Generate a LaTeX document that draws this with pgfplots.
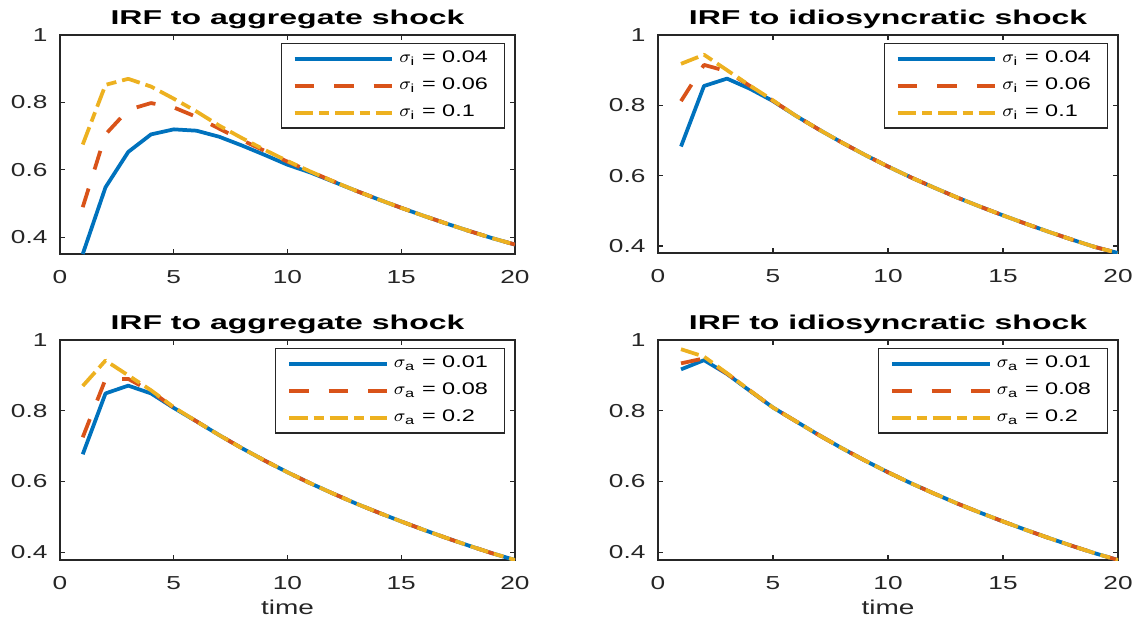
\documentclass[border=0pt]{standalone}
\usepackage{amsmath}
\usepackage{fontspec}
\setmainfont{Liberation Sans}[FakeStretch=1.4]
\newfontfamily\titlefont{Liberation Sans}[FakeStretch=1.6]
\usepackage{pgfplots}
\usepackage{pgfplotstable}
\pgfplotsset{compat=1.18}

\definecolor{mblue}{rgb}{0,0.447,0.741}
\definecolor{mred}{rgb}{0.85,0.325,0.098}
\definecolor{myellow}{rgb}{0.929,0.694,0.125}

% t, sigma low (blue), mid (red), high (yellow)
\pgfplotstableread{
t  b     r     y
1  0.350 0.489 0.675
2  0.548 0.705 0.852
3  0.653 0.778 0.870
4  0.705 0.798 0.847
5  0.720 0.785 0.811
6  0.716 0.757 0.773
7  0.698 0.722 0.731
8  0.672 0.688 0.694
9  0.644 0.656 0.659
10 0.615 0.624 0.626
11 0.592 0.595 0.595
12 0.565 0.566 0.566
13 0.538 0.538 0.538
14 0.512 0.512 0.512
15 0.487 0.487 0.487
16 0.463 0.463 0.463
17 0.440 0.440 0.440
18 0.418 0.418 0.418
19 0.397 0.397 0.397
20 0.378 0.378 0.378
}\aggi
\pgfplotstableread{
t  b     r     y
1  0.683 0.812 0.918
2  0.855 0.915 0.944
3  0.876 0.897 0.900
4  0.847 0.855 0.856
5  0.812 0.813 0.814
6  0.770 0.770 0.770
7  0.731 0.731 0.731
8  0.694 0.694 0.694
9  0.659 0.659 0.659
10 0.626 0.626 0.626
11 0.595 0.595 0.595
12 0.566 0.566 0.566
13 0.538 0.538 0.538
14 0.512 0.512 0.512
15 0.487 0.487 0.487
16 0.463 0.463 0.463
17 0.440 0.440 0.440
18 0.418 0.418 0.418
19 0.397 0.397 0.397
20 0.380 0.380 0.380
}\idioi
\pgfplotstableread{
t  b     r     y
1  0.677 0.725 0.870
2  0.849 0.889 0.942
3  0.871 0.890 0.900
4  0.849 0.855 0.858
5  0.808 0.809 0.810
6  0.770 0.770 0.770
7  0.731 0.731 0.731
8  0.694 0.694 0.694
9  0.659 0.659 0.659
10 0.626 0.626 0.626
11 0.595 0.595 0.595
12 0.566 0.566 0.566
13 0.538 0.538 0.538
14 0.512 0.512 0.512
15 0.487 0.487 0.487
16 0.463 0.463 0.463
17 0.440 0.440 0.440
18 0.418 0.418 0.418
19 0.397 0.397 0.397
20 0.378 0.378 0.378
}\agga
\pgfplotstableread{
t  b     r     y
1  0.917 0.934 0.974
2  0.943 0.948 0.953
3  0.904 0.905 0.906
4  0.856 0.857 0.857
5  0.809 0.809 0.809
6  0.770 0.770 0.770
7  0.731 0.731 0.731
8  0.694 0.694 0.694
9  0.659 0.659 0.659
10 0.626 0.626 0.626
11 0.595 0.595 0.595
12 0.566 0.566 0.566
13 0.538 0.538 0.538
14 0.512 0.512 0.512
15 0.487 0.487 0.487
16 0.463 0.463 0.463
17 0.440 0.440 0.440
18 0.418 0.418 0.418
19 0.397 0.397 0.397
20 0.378 0.378 0.378
}\idioa

\pgfplotsset{
  irf/.style={
    scale only axis,
    anchor=south west,
    xmin=0, xmax=20, ymax=1,
    xtick={0,5,10,15,20},
    ytick={0.4,0.6,0.8,1},
    tick align=inside, tick pos=both,
    major tick length=2pt,
    axis line style={black!85, line width=0.45pt},
    tick style={black!85, line width=0.45pt},
    /pgf/number format/assume math mode=true,
    tick label style={font=\fontsize{7.5}{9}\selectfont, text=black!85},
    x tick label style={yshift=-3.2pt},
    y tick label style={xshift=-1.5pt},
    every axis title shift=0pt,
    title style={font=\titlefont\bfseries\fontsize{8}{9.6}\selectfont,
      at={(0.5,1)}, anchor=base, yshift=4.4pt},
    xlabel style={font=\fontsize{8}{9.6}\selectfont, text=black!85, yshift=3pt},
    legend style={at={(1,1)}, anchor=north east, xshift=-4pt, yshift=-3.2pt,
      draw=black!85, line width=0.5pt,
      font=\fontsize{6.7}{8}\selectfont,
      inner xsep=4.6pt, inner ysep=1pt, row sep=0.6pt},
    legend cell align=left,
    legend image code/.code={\draw[##1] (0pt,0pt) -- (39pt,0pt);},
  },
  sb/.style={mblue, line width=1.5pt, line join=round},
  sr/.style={mred, line width=1.5pt, line join=round, dash pattern=on 7.8pt off 8pt},
  sy/.style={myellow, line width=1.5pt, line join=round,
    dash pattern=on 7.4pt off 2.4pt on 4pt off 2.4pt},
}

\begin{document}
\begin{tikzpicture}
\path[use as bounding box] (0,0) rectangle (454.4pt,247.2pt);

\begin{axis}[irf, at={(24pt,145.6pt)}, width=182pt, height=87.6pt,
  ymin=0.35, title={IRF to aggregate shock}]
  \addplot[sb] table[x=t,y=b]{\aggi};
  \addlegendentry{$\sigma_{\text{i}}$ = 0.04}
  \addplot[sr] table[x=t,y=r]{\aggi};
  \addlegendentry{$\sigma_{\text{i}}$ = 0.06}
  \addplot[sy] table[x=t,y=y]{\aggi};
  \addlegendentry{$\sigma_{\text{i}}$ = 0.1}
\end{axis}

\begin{axis}[irf, at={(263.2pt,146pt)}, width=184pt, height=87.2pt,
  ymin=0.38, title={IRF to idiosyncratic shock}]
  \addplot[sb] table[x=t,y=b]{\idioi};
  \addlegendentry{$\sigma_{\text{i}}$ = 0.04}
  \addplot[sr] table[x=t,y=r]{\idioi};
  \addlegendentry{$\sigma_{\text{i}}$ = 0.06}
  \addplot[sy] table[x=t,y=y]{\idioi};
  \addlegendentry{$\sigma_{\text{i}}$ = 0.1}
\end{axis}

\begin{axis}[irf, at={(24pt,23.2pt)}, width=182pt, height=88pt,
  ymin=0.378, title={IRF to aggregate shock}, xlabel={time}]
  \addplot[sb] table[x=t,y=b]{\agga};
  \addlegendentry{$\sigma_{\text{a}}$ = 0.01}
  \addplot[sr] table[x=t,y=r]{\agga};
  \addlegendentry{$\sigma_{\text{a}}$ = 0.08}
  \addplot[sy] table[x=t,y=y]{\agga};
  \addlegendentry{$\sigma_{\text{a}}$ = 0.2}
\end{axis}

\begin{axis}[irf, at={(263.2pt,23.2pt)}, width=184pt, height=88pt,
  ymin=0.378, title={IRF to idiosyncratic shock}, xlabel={time}]
  \addplot[sb] table[x=t,y=b]{\idioa};
  \addlegendentry{$\sigma_{\text{a}}$ = 0.01}
  \addplot[sr] table[x=t,y=r]{\idioa};
  \addlegendentry{$\sigma_{\text{a}}$ = 0.08}
  \addplot[sy] table[x=t,y=y]{\idioa};
  \addlegendentry{$\sigma_{\text{a}}$ = 0.2}
\end{axis}
\end{tikzpicture}
\end{document}
